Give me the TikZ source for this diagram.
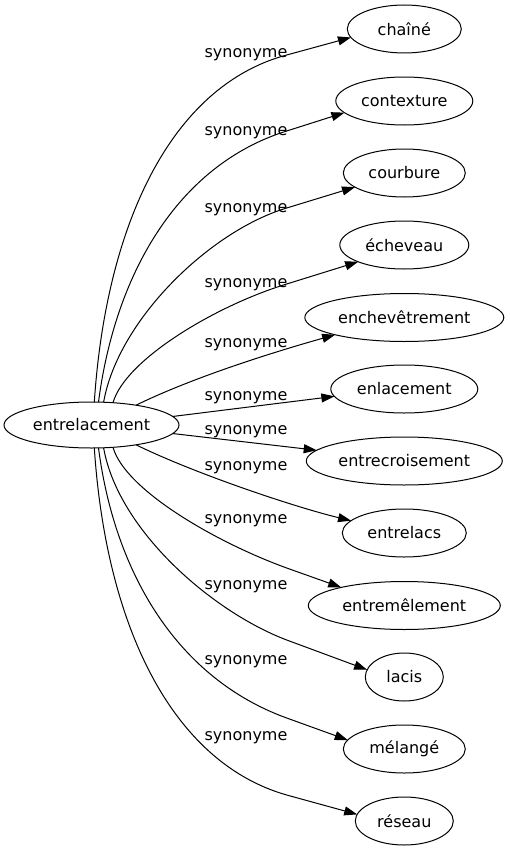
\documentclass[tikz,border=0pt]{standalone}
\usepackage{fontspec}
\setmainfont{DejaVu Sans}
\usetikzlibrary{shapes.geometric,arrows.meta}
\begin{document}
\begin{tikzpicture}[x=1pt,y=-1pt,
  every node/.style={font=\fontsize{16}{19}\selectfont},
  nd/.style={draw, ellipse, line width=1pt, inner sep=0pt, outer sep=0pt, minimum height=48pt},
  lbl/.style={anchor=base, inner sep=0pt},
  edge/.style={line width=1pt, -{Triangle[length=13pt,width=9pt]}}]
\useasboundingbox (0,0) rectangle (510,851);
\node[nd, minimum width=175pt, minimum height=46pt] (root) at (91.5,425) {entrelacement};
\node[nd, minimum width=114pt] (t1) at (404.3,29) {chaîné};
\node[nd, minimum width=137pt] (t2) at (404.3,101) {contexture};
\node[nd, minimum width=122pt] (t3) at (404.3,173) {courbure};
\node[nd, minimum width=129pt] (t4) at (404.3,245) {écheveau};
\node[nd, minimum width=199pt] (t5) at (404.3,317.5) {enchevêtrement};
\node[nd, minimum width=147pt] (t6) at (404.3,389) {enlacement};
\node[nd, minimum width=196pt] (t7) at (404.3,461) {entrecroisement};
\node[nd, minimum width=124pt] (t8) at (404.3,533) {entrelacs};
\node[nd, minimum width=192pt] (t9) at (404.3,605.5) {entremêlement};
\node[nd, minimum width=78pt] (t10) at (404.3,677) {lacis};
\node[nd, minimum width=122pt] (t11) at (404.3,749) {mélangé};
\node[nd, minimum width=98pt] (t12) at (404.3,821) {réseau};

\draw[edge] (root.83) .. controls (106,225) and (170.8,86) .. (286.7,55) -- (t1.189.4);
\draw[edge] (root.73.5) .. controls (115,275) and (177,165.3) .. (286.7,131) -- (t2.191.4);
\draw[edge] (root.62.6) .. controls (118,320) and (210,231) .. (286.7,208) -- (t3.196.5);
\draw[edge] (root.46.5) .. controls (125,360) and (215,305.9) .. (286.7,284) -- (t4.200.4);
\draw[edge] (root.24) .. controls (195,376.4) and (276.8,351.2) .. (t5.194.2);
\draw[edge] (root.6) -- (t6.186.8);
\draw[edge] (root.-6) -- (t7.173.7);
\draw[edge] (root.-24) .. controls (195,473.6) and (293.5,506.7) .. (t8.167.1);
\draw[edge] (root.-46.5) .. controls (125,490) and (216.2,542.4) .. (286.7,568) -- (t9.164.1);
\draw[edge] (root.-62.6) .. controls (118,530) and (211.9,611.6) .. (286.7,640) -- (t10.169.6);
\draw[edge] (root.-73.5) .. controls (115,575) and (178.6,678.8) .. (286.7,718) -- (t11.171.1);
\draw[edge] (root.-83) .. controls (106,625) and (171.3,762.1) .. (286.7,795) -- (t12.172.8);

\node[lbl] (l1) at (246,58) {synonyme};
\node[lbl] (l2) at (246,135) {synonyme};
\node[lbl] (l3) at (246,212) {synonyme};
\node[lbl] (l4) at (246,287) {synonyme};
\node[lbl] (l5) at (246,347) {synonyme};
\node[lbl] (l6) at (246,400) {synonyme};
\node[lbl] (l7) at (246,434) {synonyme};
\node[lbl] (l8) at (246,470) {synonyme};
\node[lbl] (l9) at (246,523) {synonyme};
\node[lbl] (l10) at (246,589) {synonyme};
\node[lbl] (l11) at (246,664) {synonyme};
\node[lbl] (l12) at (246,740) {synonyme};
\end{tikzpicture}
\end{document}
